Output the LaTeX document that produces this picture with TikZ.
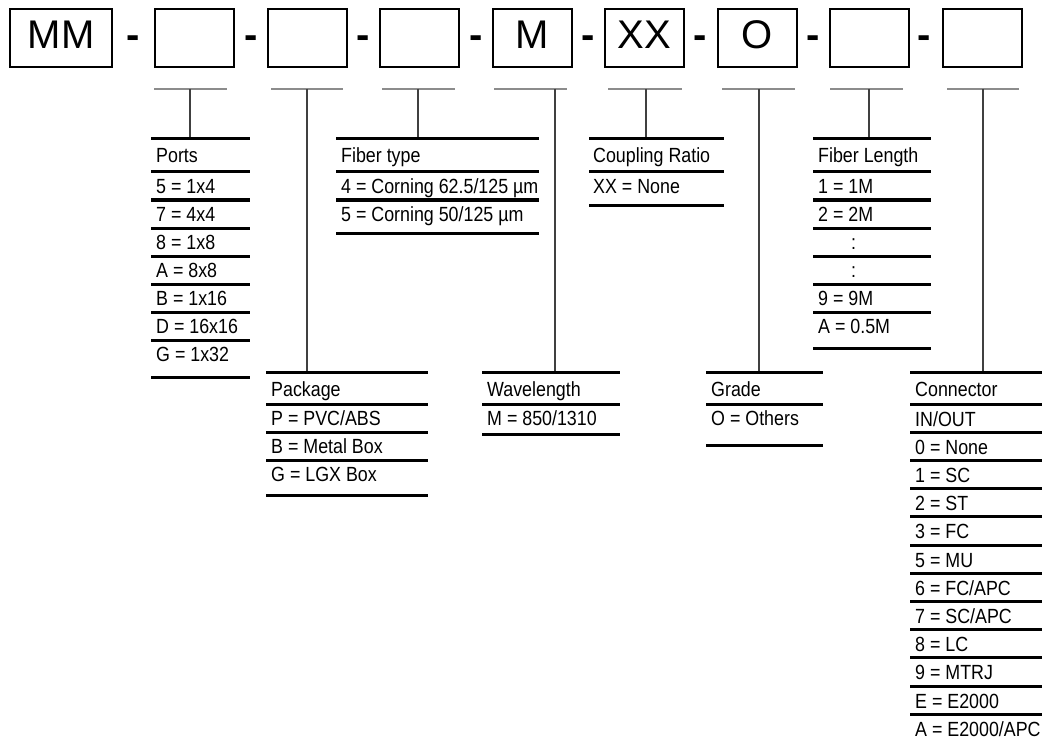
\documentclass[tikz,border=0pt]{standalone}
\usepackage{fontspec}
\setmainfont{Liberation Sans}
\newfontfamily\narrowfont[FakeStretch=0.87]{Liberation Sans}
\usetikzlibrary{positioning}

\begin{document}
\begin{tikzpicture}[x=1pt, y=-1pt,
    codebox/.style={draw=black, line width=2pt, outer sep=0pt, minimum width=79pt, minimum height=58pt, inner sep=0pt, text height=29pt, text depth=7pt, font=\fontsize{40}{48}\selectfont},
    dashsign/.style={anchor=base, inner sep=0pt, font=\bfseries\fontsize{40}{48}\selectfont},
    cell/.style={anchor=base west, inner sep=0pt, font=\narrowfont\fontsize{20.5}{24}\selectfont},
    rule/.style={draw=black, line width=3pt},
    tick/.style={draw=black!45, line width=1.2pt},
    stem/.style={draw=black!75, line width=1.2pt}
]
\useasboundingbox (0,0) rectangle (1042,749);

\node[codebox, minimum width=102pt] (mm) at (61,38) {MM};
\node[codebox, right=43pt of mm] (ports) {};
\node[codebox, right=33.5pt of ports] (pkg) {};
\node[codebox, right=33.5pt of pkg] (fiber) {};
\node[codebox, right=33.5pt of fiber] (wave) {M};
\node[codebox, right=33.5pt of wave] (ratio) {XX};
\node[codebox, right=33.5pt of ratio] (grade) {O};
\node[codebox, right=33.5pt of grade] (length) {};
\node[codebox, right=33.5pt of length] (conn) {};

\foreach \x [count=\i] in {133,251,363,476,588,700,813,924}
  \node[dashsign] (dash\i) at (\x,49) {-};

\foreach \a/\b in {154/227,271/343,382/455,494/567,608/682,722/795,830/903,947/1019}
  \draw[tick] (\a,89) -- (\b,89);

\foreach \n/\x/\y in {ports/190/139, pkg/307/372, fiber/418/139, wave/555/372, ratio/646/139, grade/759/372, length/869/139, conn/983/372} {
  \coordinate (\n-s) at (\x,89);
  \coordinate (\n-e) at (\x,\y);
  \draw[stem] (\n-s) -- (\n-e);
}

\foreach \y in {139,172,200,228,256,284,312,340,377} \draw[rule] (151,\y) -- (250,\y);
\node[cell] (ports-h) at (156,163) {Ports};
\foreach \t [count=\i] in {5 = 1x4, 7 = 4x4, 8 = 1x8, A = 8x8, B = 1x16, D = 16x16, G = 1x32}
  \node[cell] (ports-\i) at (156,{193.5+28*(\i-1)}) {\t};

\foreach \y in {139,172,200,233} \draw[rule] (336,\y) -- (539,\y);
\node[cell] (fiber-h) at (341,163) {Fiber type};
\foreach \t [count=\i] in {4 = Corning 62.5/125 µm, 5 = Corning 50/125 µm}
  \node[cell] (fiber-\i) at (341,{193.5+28*(\i-1)}) {\t};

\foreach \y in {139,172,205} \draw[rule] (589,\y) -- (724,\y);
\node[cell] (ratio-h) at (593,163) {Coupling Ratio};
\node[cell] (ratio-1) at (593,193.5) {XX = None};

\foreach \y in {139,172,200,228,256,284,312,348} \draw[rule] (813,\y) -- (931,\y);
\node[cell] (length-h) at (818,163) {Fiber Length};
\foreach \t/\dx [count=\i] in {1 = 1M/0, 2 = 2M/0, :/33, :/33, 9 = 9M/0, A = 0.5M/0}
  \node[cell] (length-\i) at ({818+\dx},{193.5+28*(\i-1)}) {\t};

\foreach \y in {372,404,432,460,495} \draw[rule] (266,\y) -- (428,\y);
\node[cell] (pkg-h) at (271,396) {Package};
\foreach \t [count=\i] in {P = PVC/ABS, B = Metal Box, G = LGX Box}
  \node[cell] (pkg-\i) at (271,{425.5+28*(\i-1)}) {\t};

\foreach \y in {372,404,434} \draw[rule] (482,\y) -- (620,\y);
\node[cell] (wave-h) at (487,396) {Wavelength};
\node[cell] (wave-1) at (487,425.5) {M = 850/1310};

\foreach \y in {372,404,445} \draw[rule] (706,\y) -- (823,\y);
\node[cell] (grade-h) at (711,396) {Grade};
\node[cell] (grade-1) at (711,425.5) {O = Others};

\draw[rule] (910,372) -- (1042,372);
\foreach \k in {0,...,11} \draw[rule] (910,{404+28.2*\k}) -- (1042,{404+28.2*\k});
\node[cell] (conn-h) at (915,396) {Connector};
\foreach \t [count=\i] in {IN/OUT, 0 = None, 1 = SC, 2 = ST, 3 = FC, 5 = MU, 6 = FC/APC, 7 = SC/APC, 8 = LC, 9 = MTRJ, E = E2000, A = E2000/APC}
  \node[cell] (conn-\i) at (915,{426+28.2*(\i-1)}) {\t};
\end{tikzpicture}
\end{document}
